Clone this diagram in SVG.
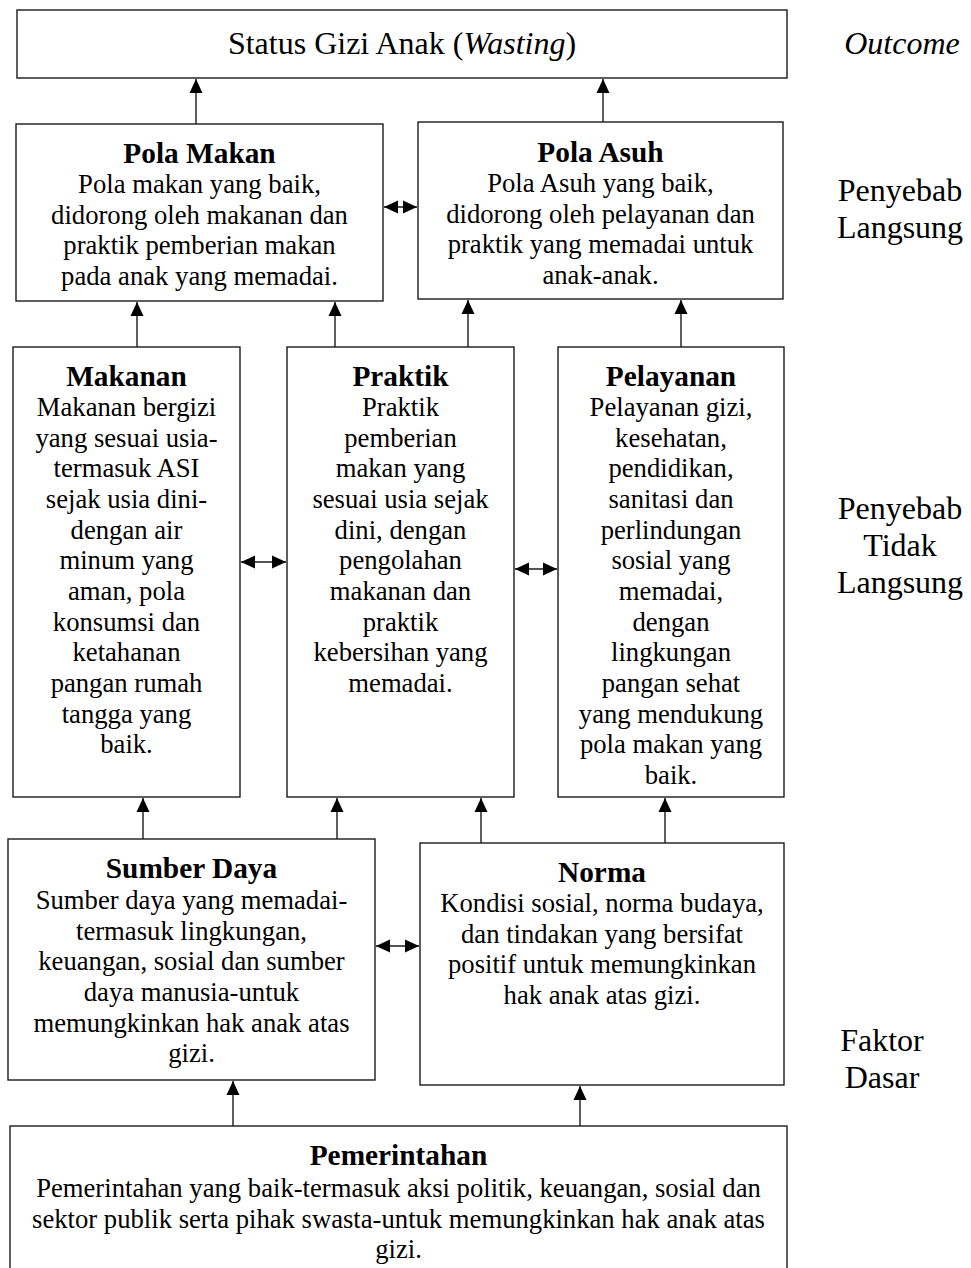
<svg xmlns="http://www.w3.org/2000/svg" width="971" height="1268" viewBox="0 0 971 1268">
<style>
.box{fill:#fff;stroke:#1a1a1a;stroke-width:1.4}
text{font-family:"Liberation Serif","Times New Roman",serif;fill:#000;text-anchor:middle}
.b{font-size:26.67px}
.h{font-size:29.33px;font-weight:bold}
.t{font-size:32px}
.c{stroke:#1a1a1a;stroke-width:1.4;fill:none}
</style>
<defs>
<marker id="ah" markerUnits="userSpaceOnUse" markerWidth="14" markerHeight="14" refX="14" refY="7" orient="auto-start-reverse">
<path d="M0,0.5 L14,7 L0,13.5 z" fill="#000"/>
</marker>
</defs>
<rect width="971" height="1268" fill="#fff"/>

<g id="connectors">
<line class="c" x1="196" y1="124" x2="196" y2="79" marker-end="url(#ah)"/>
<line class="c" x1="603" y1="122" x2="603" y2="79" marker-end="url(#ah)"/>
<line class="c" x1="137" y1="347" x2="137" y2="302" marker-end="url(#ah)"/>
<line class="c" x1="335" y1="347" x2="335" y2="302" marker-end="url(#ah)"/>
<line class="c" x1="468" y1="347" x2="468" y2="300" marker-end="url(#ah)"/>
<line class="c" x1="681" y1="347" x2="681" y2="300" marker-end="url(#ah)"/>
<line class="c" x1="143" y1="839" x2="143" y2="798" marker-end="url(#ah)"/>
<line class="c" x1="337" y1="839" x2="337" y2="798" marker-end="url(#ah)"/>
<line class="c" x1="481" y1="843" x2="481" y2="798" marker-end="url(#ah)"/>
<line class="c" x1="665" y1="843" x2="665" y2="798" marker-end="url(#ah)"/>
<line class="c" x1="233" y1="1126" x2="233" y2="1081" marker-end="url(#ah)"/>
<line class="c" x1="580" y1="1129" x2="580" y2="1086" marker-end="url(#ah)"/>
<line class="c" x1="384" y1="207" x2="417" y2="207" marker-start="url(#ah)" marker-end="url(#ah)"/>
<line class="c" x1="241" y1="562" x2="286" y2="562" marker-start="url(#ah)" marker-end="url(#ah)"/>
<line class="c" x1="515" y1="569" x2="557" y2="569" marker-start="url(#ah)" marker-end="url(#ah)"/>
<line class="c" x1="376" y1="946" x2="419" y2="946" marker-start="url(#ah)" marker-end="url(#ah)"/>
</g>

<g id="status">
<rect class="box" x="17" y="10" width="770" height="68"/>
<text class="t" x="402" y="54">Status Gizi Anak (<tspan font-style="italic">Wasting</tspan>)</text>
</g>

<g id="pola-makan">
<rect class="box" x="16" y="124" width="367" height="177"/>
<text class="h" x="199.5" y="163">Pola Makan</text>
<text class="b" x="199.5" y="193">Pola makan yang baik,</text>
<text class="b" x="199.5" y="224">didorong oleh makanan dan</text>
<text class="b" x="199.5" y="254">praktik pemberian makan</text>
<text class="b" x="199.5" y="285">pada anak yang memadai.</text>
</g>

<g id="pola-asuh">
<rect class="box" x="418" y="122" width="365" height="177"/>
<text class="h" x="600.5" y="162">Pola Asuh</text>
<text class="b" x="600.5" y="192">Pola Asuh yang baik,</text>
<text class="b" x="600.5" y="223">didorong oleh pelayanan dan</text>
<text class="b" x="600.5" y="253">praktik yang memadai untuk</text>
<text class="b" x="600.5" y="284">anak-anak.</text>
</g>

<g id="makanan">
<rect class="box" x="13" y="347" width="227" height="450"/>
<text class="h" x="126.5" y="386">Makanan</text>
<text class="b" x="126.5" y="416">Makanan bergizi</text>
<text class="b" x="126.5" y="446.7">yang sesuai usia-</text>
<text class="b" x="126.5" y="477.3">termasuk ASI</text>
<text class="b" x="126.5" y="508">sejak usia dini-</text>
<text class="b" x="126.5" y="538.7">dengan air</text>
<text class="b" x="126.5" y="569.3">minum yang</text>
<text class="b" x="126.5" y="600">aman, pola</text>
<text class="b" x="126.5" y="630.7">konsumsi dan</text>
<text class="b" x="126.5" y="661.3">ketahanan</text>
<text class="b" x="126.5" y="692">pangan rumah</text>
<text class="b" x="126.5" y="722.7">tangga yang</text>
<text class="b" x="126.5" y="753.3">baik.</text>
</g>

<g id="praktik">
<rect class="box" x="287" y="347" width="227" height="450"/>
<text class="h" x="400.5" y="386">Praktik</text>
<text class="b" x="400.5" y="416">Praktik</text>
<text class="b" x="400.5" y="446.7">pemberian</text>
<text class="b" x="400.5" y="477.3">makan yang</text>
<text class="b" x="400.5" y="508">sesuai usia sejak</text>
<text class="b" x="400.5" y="538.7">dini, dengan</text>
<text class="b" x="400.5" y="569.3">pengolahan</text>
<text class="b" x="400.5" y="600">makanan dan</text>
<text class="b" x="400.5" y="630.7">praktik</text>
<text class="b" x="400.5" y="661.3">kebersihan yang</text>
<text class="b" x="400.5" y="692">memadai.</text>
</g>

<g id="pelayanan">
<rect class="box" x="558" y="347" width="226" height="450"/>
<text class="h" x="671" y="386">Pelayanan</text>
<text class="b" x="671" y="416">Pelayanan gizi,</text>
<text class="b" x="671" y="446.7">kesehatan,</text>
<text class="b" x="671" y="477.3">pendidikan,</text>
<text class="b" x="671" y="508">sanitasi dan</text>
<text class="b" x="671" y="538.7">perlindungan</text>
<text class="b" x="671" y="569.3">sosial yang</text>
<text class="b" x="671" y="600">memadai,</text>
<text class="b" x="671" y="630.7">dengan</text>
<text class="b" x="671" y="661.3">lingkungan</text>
<text class="b" x="671" y="692">pangan sehat</text>
<text class="b" x="671" y="722.7">yang mendukung</text>
<text class="b" x="671" y="753.3">pola makan yang</text>
<text class="b" x="671" y="784">baik.</text>
</g>

<g id="sumber-daya">
<rect class="box" x="8" y="839" width="367" height="241"/>
<text class="h" x="191.5" y="878">Sumber Daya</text>
<text class="b" x="191.5" y="909">Sumber daya yang memadai-</text>
<text class="b" x="191.5" y="939.7">termasuk lingkungan,</text>
<text class="b" x="191.5" y="970.3">keuangan, sosial dan sumber</text>
<text class="b" x="191.5" y="1001">daya manusia-untuk</text>
<text class="b" x="191.5" y="1031.7">memungkinkan hak anak atas</text>
<text class="b" x="191.5" y="1062.3">gizi.</text>
</g>

<g id="norma">
<rect class="box" x="420" y="843" width="364" height="242"/>
<text class="h" x="602" y="882">Norma</text>
<text class="b" x="602" y="912">Kondisi sosial, norma budaya,</text>
<text class="b" x="602" y="942.7">dan tindakan yang bersifat</text>
<text class="b" x="602" y="973.3">positif untuk memungkinkan</text>
<text class="b" x="602" y="1004">hak anak atas gizi.</text>
</g>

<g id="pemerintahan">
<rect class="box" x="10" y="1126" width="777" height="150"/>
<text class="h" x="398.5" y="1165">Pemerintahan</text>
<text class="b" x="398.5" y="1197">Pemerintahan yang baik-termasuk aksi politik, keuangan, sosial dan</text>
<text class="b" x="398.5" y="1227.7">sektor publik serta pihak swasta-untuk memungkinkan hak anak atas</text>
<text class="b" x="398.5" y="1258.3">gizi.</text>
</g>

<g id="labels">
<text class="t" x="902" y="54" font-style="italic">Outcome</text>
<text class="t" x="900" y="201">Penyebab</text>
<text class="t" x="900" y="238">Langsung</text>
<text class="t" x="900" y="519">Penyebab</text>
<text class="t" x="900" y="556">Tidak</text>
<text class="t" x="900" y="593">Langsung</text>
<text class="t" x="882" y="1051">Faktor</text>
<text class="t" x="882" y="1088">Dasar</text>
</g>
</svg>
